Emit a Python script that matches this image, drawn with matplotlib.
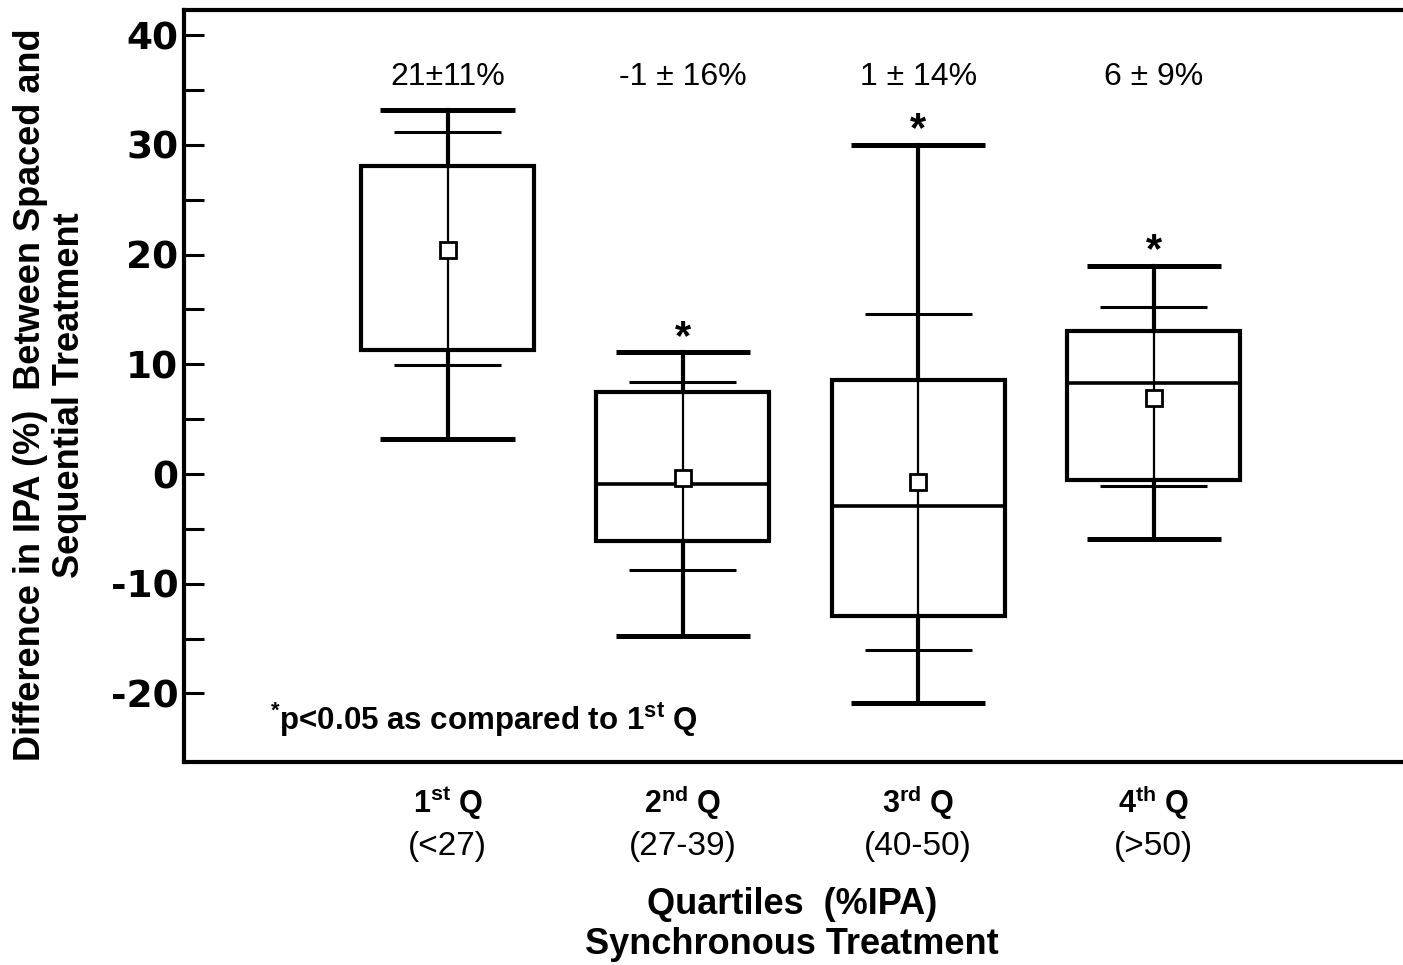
import matplotlib
matplotlib.use("Agg")
import matplotlib.pyplot as plt
import matplotlib.transforms as mtransforms

plt.rcParams['font.family'] = ['Liberation Sans', 'DejaVu Sans']
plt.rcParams['mathtext.fontset'] = 'custom'
plt.rcParams['mathtext.rm'] = 'Liberation Sans'
plt.rcParams['mathtext.bf'] = 'Liberation Sans:bold'
plt.rcParams['axes.unicode_minus'] = False

# data
groups = ['1', '2', '3', '4']
q_names = [r'1$^{\mathbf{st}}$ Q', r'2$^{\mathbf{nd}}$ Q', r'3$^{\mathbf{rd}}$ Q', r'4$^{\mathbf{th}}$ Q']
q_ranges = ['(<27)', '(27-39)', '(40-50)', '(>50)']
summary = ['21±11%', '-1 ± 16%', '1 ± 14%', '6 ± 9%']
v_min = [3.2, -14.8, -20.9, -5.9]
v_p10 = [9.9, -8.75, -16.0, -1.1]
v_q1 = [11.3, -6.1, -12.9, -0.5]
v_median = [None, -0.9, -2.9, 8.3]
v_mean = [20.4, -0.4, -0.7, 6.9]
v_q3 = [28.1, 7.5, 8.6, 13.0]
v_p90 = [31.2, 8.4, 14.6, 15.2]
v_max = [33.2, 11.1, 30.0, 19.0]
signif = [False, True, True, True]

fig = plt.figure(figsize=(14.03, 9.65), dpi=100)
ax = fig.add_axes([0.1311, 0.2104, 0.869, 0.7792])

pos = [1, 2, 3, 4]
box_w = 0.735
cap_w = 0.57
inner_w = 0.455
lw = 3.0

for i, x in enumerate(pos):
    # thin line through the whole range
    ax.plot([x, x], [v_min[i], v_max[i]], color='black', lw=1.6, zorder=2)
    # thick whiskers outside box
    ax.plot([x, x], [v_q3[i], v_max[i]], color='black', lw=lw, zorder=2)
    ax.plot([x, x], [v_min[i], v_q1[i]], color='black', lw=lw, zorder=2)
    # caps
    for v in (v_min[i], v_max[i]):
        ax.plot([x - cap_w / 2, x + cap_w / 2], [v, v], color='black', lw=3.6,
                solid_capstyle='butt', zorder=3)
    for v in (v_p10[i], v_p90[i]):
        ax.plot([x - inner_w / 2, x + inner_w / 2], [v, v], color='black', lw=2.2,
                solid_capstyle='butt', zorder=3)
    # box
    rect = plt.Rectangle((x - box_w / 2, v_q1[i]), box_w, v_q3[i] - v_q1[i],
                         fill=False, edgecolor='black', lw=lw, zorder=3)
    ax.add_patch(rect)
    if v_median[i] is not None:
        ax.plot([x - box_w / 2, x + box_w / 2], [v_median[i], v_median[i]],
                color='black', lw=2.6, zorder=3)
    ax.plot(x, v_mean[i], marker='s', ms=12, mfc='white', mec='black', mew=2.0, zorder=5)
    ax.text(x, 36.2, summary[i], ha='center', va='center', fontsize=23)
    if signif[i]:
        ax.text(x, v_max[i] - 0.5, '*', ha='center', va='bottom', fontsize=30,
                fontweight='bold')

ax.set_xlim(-0.12, 5.06)
ax.set_ylim(-26.25, 42.3)
ax.set_yticks([-20, -10, 0, 10, 20, 30, 40])
ax.set_yticks([-15, -5, 5, 15, 25, 35], minor=True)
ax.set_xticks([])
ax.tick_params(axis='y', which='both', direction='in', length=14.5, width=2.2,
               right=False)
ax.tick_params(axis='y', which='major', pad=4)
for lab in ax.get_yticklabels():
    lab.set_family('DejaVu Sans')
    lab.set_fontweight('heavy')
    lab.set_fontsize(27)

for s in ('left', 'top', 'bottom'):
    ax.spines[s].set_linewidth(3.0)
ax.spines['right'].set_visible(False)

fig.text(50 / 1403, 1 - 395 / 965,
         'Difference in IPA (%)  Between Spaced and\nSequential Treatment',
         rotation=90, ha='center', va='center', fontsize=26, fontweight='bold',
         linespacing=1.15, multialignment='center')

ax.text(0.245, -22.4, r'$^{\mathbf{*}}$p<0.05 as compared to 1$^{\mathbf{st}}$ Q',
        fontsize=22.5, fontweight='bold', ha='left', va='center')

trans = mtransforms.blended_transform_factory(ax.transData, fig.transFigure)
for i, x in enumerate(pos):
    fig.text(x, 1 - 803 / 965, q_names[i], transform=trans, ha='center', va='center',
             fontsize=22, fontweight='bold')
    fig.text(x, 1 - 847 / 965, q_ranges[i], transform=trans, ha='center', va='center',
             fontsize=24)

fig.text(792 / 1403, 1 - 905 / 965, 'Quartiles  (%IPA)', ha='center', va='center',
         fontsize=26, fontweight='bold')
fig.text(792 / 1403, 1 - 945 / 965, 'Synchronous Treatment', ha='center', va='center',
         fontsize=26, fontweight='bold')

fig.savefig('out.png', dpi=100)
